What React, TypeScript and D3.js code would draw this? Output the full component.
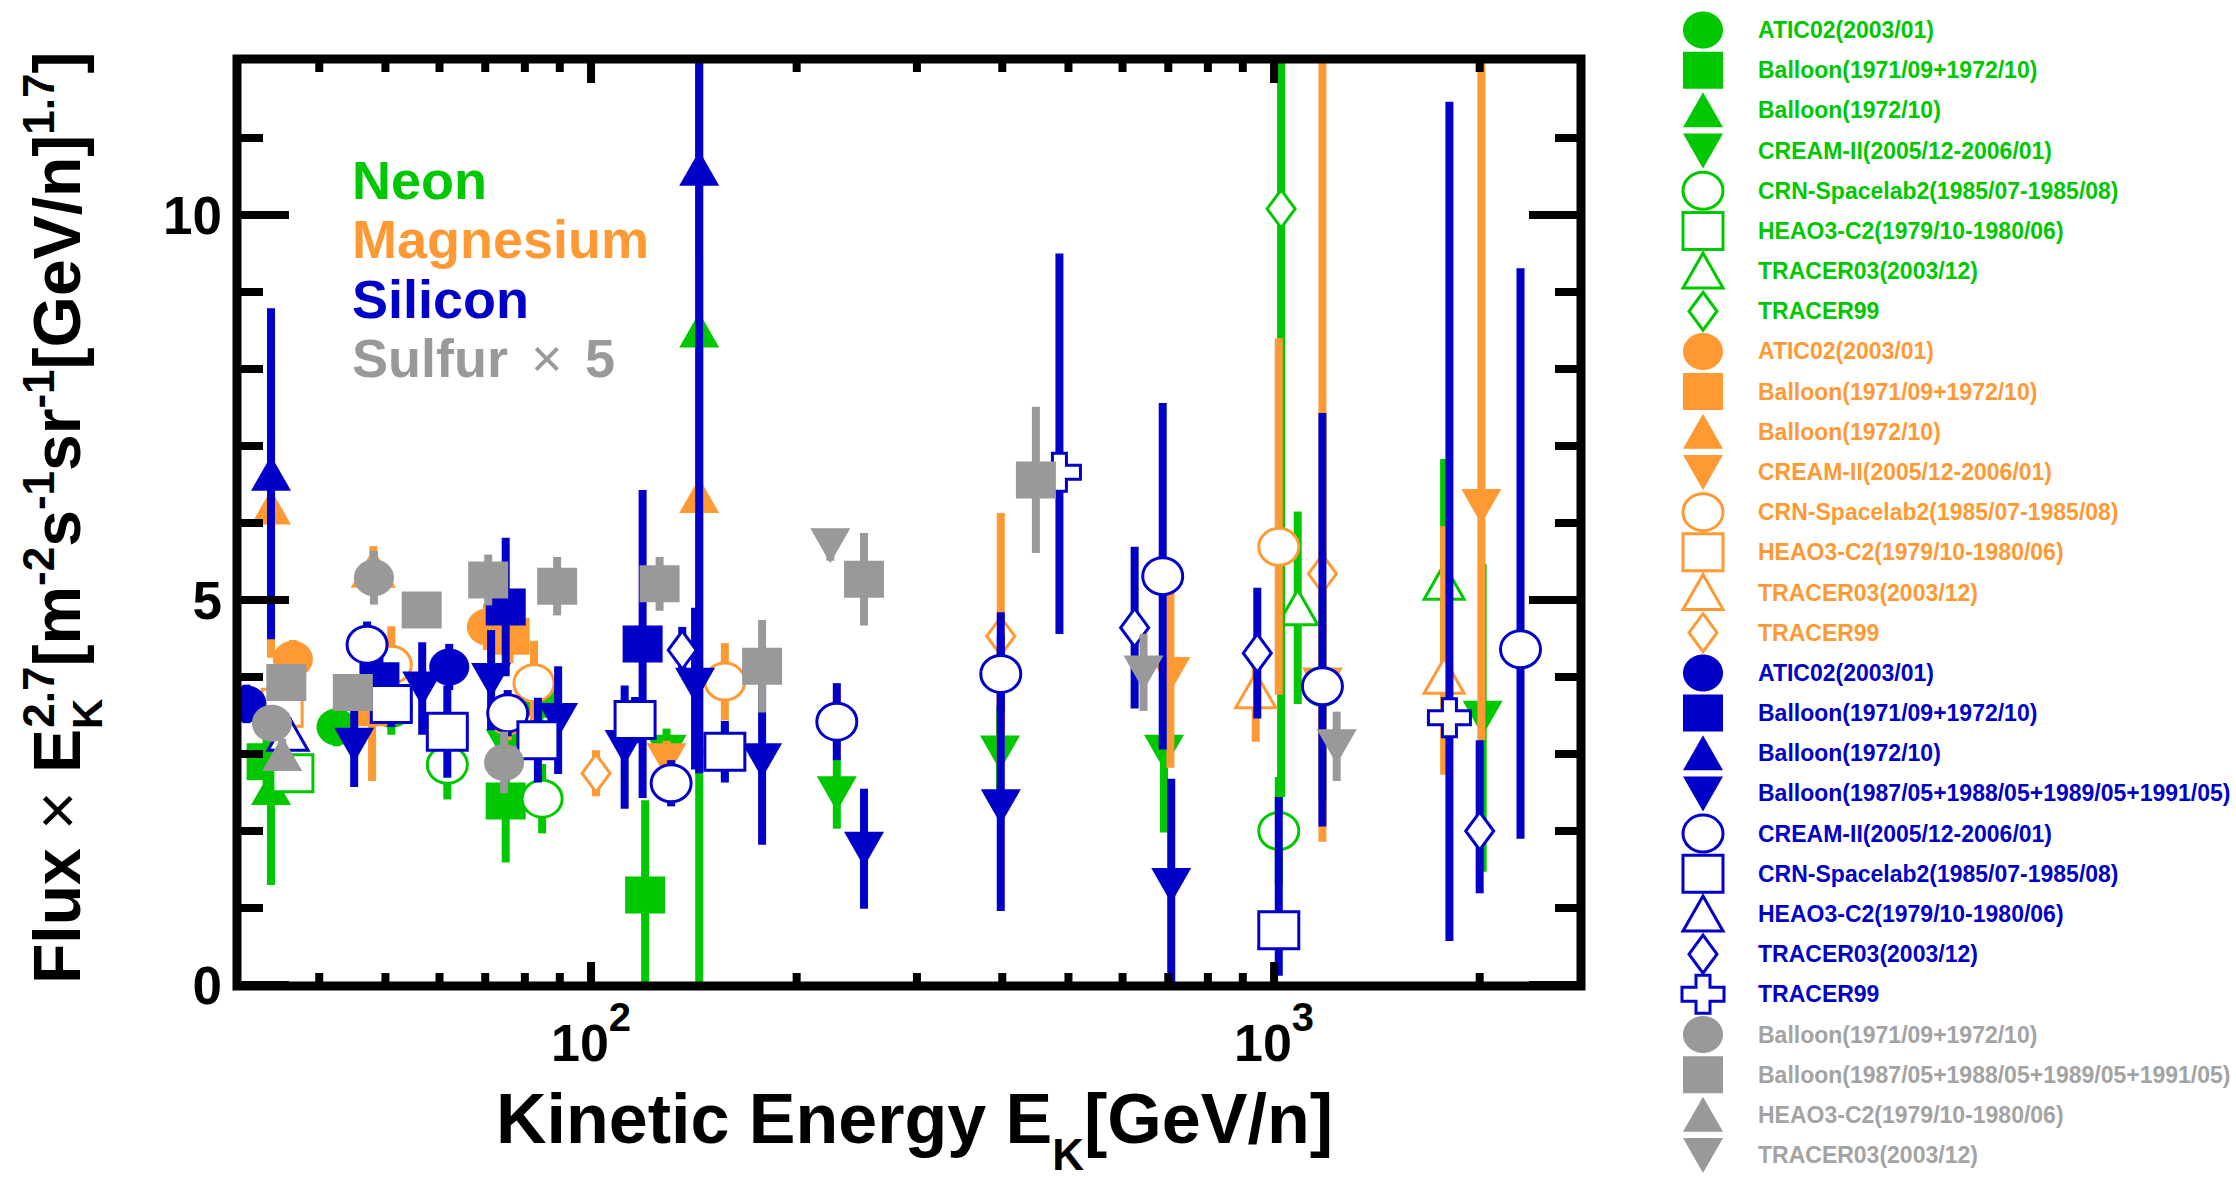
import React from "react";
import * as d3 from "d3";

type Pt = [number, number, number, number]; // [E (GeV/n), flux*E^2.7, errLow, errHigh]

// ---------- Neon ----------
const neATIC02: Pt[] = [[42.4, 3.35, 0.25, 0.25], [84, 3.7, 0.3, 0.3], [1177, 3.85, 0.6, 0.6]];
const neBalloon7172: Pt[] = [[33.5, 2.9, 0.3, 0.3], [75, 2.39, 0.8, 0.8], [120, 1.17, 1.17, 1.23]];
const neBalloon72: Pt[] = [[34, 2.56, 1.26, 1.26], [144, 8.5, 8.5, 8.5]];
const neCREAM2: Pt[] = [[75, 3.1, 0.3, 0.3], [129, 3.03, 0.3, 0.3], [229, 2.49, 0.46, 0.46], [397, 3.02, 0.6, 0.6], [690, 3.03, 1.05, 1.05], [1177, 3.9, 1.5, 1.5], [2020, 3.47, 2.0, 2.0]];
const neCRN: Pt[] = [[51, 3.6, 0.35, 0.35], [61.6, 2.86, 0.45, 0.45], [84.8, 2.42, 0.45, 0.45], [157, 3.03, 0.35, 0.35], [1016, 2.0, 0.7, 0.7]];
const neHEAO: Pt[] = [[36.6, 2.75, 0.25, 0.25]];
const neTRACER03: Pt[] = [[1083, 4.9, 1.25, 1.25], [1774, 5.23, 1.6, 1.6]];
const neTRACER99: Pt[] = [[1024, 10.08, 7.64, 7.64]];

// ---------- Magnesium ----------
const mgATIC02: Pt[] = [[36.6, 4.23, 0.25, 0.25], [70.4, 4.65, 0.3, 0.3], [75.5, 3.48, 0.3, 0.3], [229, 3.42, 0.35, 0.35], [398, 4.04, 0.5, 0.5], [1177, 3.9, 0.8, 0.8]];
const mgBalloon7172: Pt[] = [[47.8, 3.6, 0.95, 0.95], [76, 4.53, 0.35, 0.35]];
const mgBalloon72: Pt[] = [[34, 6.2, 1.95, 1.95], [144, 6.35, 3.05, 3.05]];
const mgCREAM2: Pt[] = [[129, 2.92, 0.25, 0.25], [705, 4.04, 1.22, 1.22], [1177, 3.9, 2.04, 8.5], [2011, 6.22, 3.04, 6.0]];
const mgCRN: Pt[] = [[51, 4.16, 0.5, 0.5], [82.5, 3.92, 0.55, 0.55], [157, 3.94, 0.5, 0.5], [1016, 5.69, 1.92, 2.71]];
const mgHEAO: Pt[] = [[35.3, 3.6, 0.3, 0.3]];
const mgTRACER03: Pt[] = [[48, 5.4, 0.3, 0.3], [940, 3.82, 0.66, 0.66], [1774, 4.01, 1.28, 1.95]];
const mgTRACER99: Pt[] = [[101.7, 2.75, 0.3, 0.3], [398, 4.53, 1.6, 1.6], [1177, 5.34, 0.3, 0.3]];

// ---------- Silicon ----------
const siATIC02: Pt[] = [[31.3, 3.65, 0.25, 0.25], [62, 4.13, 0.3, 0.3]];
const siBalloon7172: Pt[] = [[49, 3.95, 0.5, 0.5], [75, 4.91, 0.9, 0.9], [119, 4.43, 2.0, 2.0]];
const siBalloon72: Pt[] = [[34, 6.64, 2.15, 2.15], [144, 10.6, 7.85, 7.85]];
const siBalloon87: Pt[] = [[45, 3.12, 0.55, 0.55], [56.6, 3.85, 0.6, 0.6], [71.4, 3.96, 0.65, 0.65], [89.5, 3.44, 0.7, 0.7], [112, 3.09, 0.8, 0.8], [142, 3.9, 1.1, 1.0], [178, 2.92, 1.1, 1.1], [251, 1.77, 0.78, 0.78], [398, 2.32, 1.36, 2.52], [707, 1.3, 1.38, 1.38]];
const siCREAM2: Pt[] = [[47, 4.42, 0.3, 0.3], [75.5, 3.53, 0.3, 0.3], [131, 2.62, 0.3, 0.3], [229, 3.42, 0.5, 0.5], [398, 4.04, 0.5, 0.5], [687, 5.31, 2.25, 2.25], [1177, 3.88, 1.82, 3.55], [2295, 4.36, 2.46, 4.95]];
const siCRN: Pt[] = [[51, 3.65, 0.3, 0.3], [61.6, 3.29, 0.6, 0.6], [83.6, 3.18, 0.55, 0.55], [116, 3.44, 0.3, 0.3], [157, 3.03, 0.4, 0.4], [1016, 0.71, 0.59, 1.73]];
const siHEAO: Pt[] = [[36, 3.27, 0.2, 0.2]];
const siTRACER03: Pt[] = [[136, 4.35, 0.3, 0.3], [625, 4.64, 1.05, 1.05], [945, 4.31, 0.85, 0.85], [2000, 2.0, 0.81, 1.18]];
const siTRACER99: Pt[] = [[485, 6.66, 2.1, 2.84], [1806, 3.47, 2.9, 8.0]];

// ---------- Sulfur x5 ----------
const sBalloon7172: Pt[] = [[34.1, 3.4, 0.2, 0.2], [48.1, 5.29, 0.35, 0.35], [74.6, 2.89, 0.4, 0.4]];
const sBalloon87: Pt[] = [[35.8, 3.93, 0.2, 0.2], [44.8, 3.8, 0.2, 0.2], [56.5, 4.87, 0.2, 0.2], [70.7, 5.26, 0.33, 0.33], [89.2, 5.18, 0.38, 0.38], [126, 5.21, 0.35, 0.35], [178, 4.14, 0.6, 0.6], [251, 5.27, 0.6, 0.6], [448, 6.56, 0.95, 0.95]];
const sHEAO: Pt[] = [[35.3, 3.0, 0.2, 0.2]];
const sTRACER03: Pt[] = [[224, 5.71, 0.2, 0.2], [644, 4.06, 0.5, 0.5], [1235, 3.1, 0.45, 0.45]];

// ---------- axis ticks ----------
const yMajor = [0, 5, 10];
const yMinor = [1, 2, 3, 4, 6, 7, 8, 9, 11];
const xMajor = [100, 1000];
const xMajorExp = ["2", "3"];
const xMinor = [40, 50, 60, 70, 80, 90, 200, 300, 400, 500, 600, 700, 800, 900, 2000];

const elementLabels = ["Neon", "Magnesium", "Silicon", "Sulfur"];

const GREEN = "#00c800";
const ORANGE = "#ff9933";
const BLUE = "#0000c8";
const GRAY = "#999999";
const GRAYTXT = "#a3a3a3";

type Shape = "circle" | "square" | "triUp" | "triDown" | "oCircle" | "oSquare" | "oTri" | "oDiamond" | "oCross";

const series: { label: string; color: string; text: string; shape: Shape; data: Pt[] }[] = [
  { label: "ATIC02(2003/01)", color: GREEN, text: GREEN, shape: "circle", data: neATIC02 },
  { label: "Balloon(1971/09+1972/10)", color: GREEN, text: GREEN, shape: "square", data: neBalloon7172 },
  { label: "Balloon(1972/10)", color: GREEN, text: GREEN, shape: "triUp", data: neBalloon72 },
  { label: "CREAM-II(2005/12-2006/01)", color: GREEN, text: GREEN, shape: "triDown", data: neCREAM2 },
  { label: "CRN-Spacelab2(1985/07-1985/08)", color: GREEN, text: GREEN, shape: "oCircle", data: neCRN },
  { label: "HEAO3-C2(1979/10-1980/06)", color: GREEN, text: GREEN, shape: "oSquare", data: neHEAO },
  { label: "TRACER03(2003/12)", color: GREEN, text: GREEN, shape: "oTri", data: neTRACER03 },
  { label: "TRACER99", color: GREEN, text: GREEN, shape: "oDiamond", data: neTRACER99 },
  { label: "ATIC02(2003/01)", color: ORANGE, text: ORANGE, shape: "circle", data: mgATIC02 },
  { label: "Balloon(1971/09+1972/10)", color: ORANGE, text: ORANGE, shape: "square", data: mgBalloon7172 },
  { label: "Balloon(1972/10)", color: ORANGE, text: ORANGE, shape: "triUp", data: mgBalloon72 },
  { label: "CREAM-II(2005/12-2006/01)", color: ORANGE, text: ORANGE, shape: "triDown", data: mgCREAM2 },
  { label: "CRN-Spacelab2(1985/07-1985/08)", color: ORANGE, text: ORANGE, shape: "oCircle", data: mgCRN },
  { label: "HEAO3-C2(1979/10-1980/06)", color: ORANGE, text: ORANGE, shape: "oSquare", data: mgHEAO },
  { label: "TRACER03(2003/12)", color: ORANGE, text: ORANGE, shape: "oTri", data: mgTRACER03 },
  { label: "TRACER99", color: ORANGE, text: ORANGE, shape: "oDiamond", data: mgTRACER99 },
  { label: "ATIC02(2003/01)", color: BLUE, text: BLUE, shape: "circle", data: siATIC02 },
  { label: "Balloon(1971/09+1972/10)", color: BLUE, text: BLUE, shape: "square", data: siBalloon7172 },
  { label: "Balloon(1972/10)", color: BLUE, text: BLUE, shape: "triUp", data: siBalloon72 },
  { label: "Balloon(1987/05+1988/05+1989/05+1991/05)", color: BLUE, text: BLUE, shape: "triDown", data: siBalloon87 },
  { label: "CREAM-II(2005/12-2006/01)", color: BLUE, text: BLUE, shape: "oCircle", data: siCREAM2 },
  { label: "CRN-Spacelab2(1985/07-1985/08)", color: BLUE, text: BLUE, shape: "oSquare", data: siCRN },
  { label: "HEAO3-C2(1979/10-1980/06)", color: BLUE, text: BLUE, shape: "oTri", data: siHEAO },
  { label: "TRACER03(2003/12)", color: BLUE, text: BLUE, shape: "oDiamond", data: siTRACER03 },
  { label: "TRACER99", color: BLUE, text: BLUE, shape: "oCross", data: siTRACER99 },
  { label: "Balloon(1971/09+1972/10)", color: GRAY, text: GRAYTXT, shape: "circle", data: sBalloon7172 },
  { label: "Balloon(1987/05+1988/05+1989/05+1991/05)", color: GRAY, text: GRAYTXT, shape: "square", data: sBalloon87 },
  { label: "HEAO3-C2(1979/10-1980/06)", color: GRAY, text: GRAYTXT, shape: "triUp", data: sHEAO },
  { label: "TRACER03(2003/12)", color: GRAY, text: GRAYTXT, shape: "triDown", data: sTRACER03 },
];

const FONT = "'Liberation Sans', Arial, Helvetica, sans-serif";

const x = d3.scaleLog().domain([30, 2800]).range([233.9, 1579.5]);
const y = d3.scaleLinear().domain([0, 12]).range([985, 61]);

const L = 237, R = 1581, T = 59, B = 986;

function shapePath(shape: Shape, cx: number, cy: number): string {
  const p = d3.path();
  const poly = (pts: [number, number][]) => {
    p.moveTo(cx + pts[0][0], cy + pts[0][1]);
    for (let i = 1; i < pts.length; i++) p.lineTo(cx + pts[i][0], cy + pts[i][1]);
    p.closePath();
  };
  switch (shape) {
    case "circle":
    case "oCircle": {
      const rx = 20, ry = 18.5, k = 0.5523;
      p.moveTo(cx + rx, cy);
      p.bezierCurveTo(cx + rx, cy + ry * k, cx + rx * k, cy + ry, cx, cy + ry);
      p.bezierCurveTo(cx - rx * k, cy + ry, cx - rx, cy + ry * k, cx - rx, cy);
      p.bezierCurveTo(cx - rx, cy - ry * k, cx - rx * k, cy - ry, cx, cy - ry);
      p.bezierCurveTo(cx + rx * k, cy - ry, cx + rx, cy - ry * k, cx + rx, cy);
      p.closePath();
      break;
    }
    case "square":
    case "oSquare":
      p.rect(cx - 20, cy - 18.5, 40, 37);
      break;
    case "triUp":
    case "oTri":
      poly([[0, -18], [20, 17], [-20, 17]]);
      break;
    case "triDown":
      poly([[-20, -17], [20, -17], [0, 18]]);
      break;
    case "oDiamond":
      poly([[0, -19], [14, 0], [0, 19], [-14, 0]]);
      break;
    case "oCross": {
      const a = 21, b = 19, t = 7;
      poly([[-t, -b], [t, -b], [t, -t], [a, -t], [a, t], [t, t], [t, b], [-t, b], [-t, t], [-a, t], [-a, -t], [-t, -t]]);
      break;
    }
  }
  return p.toString();
}

function Marker({ shape, color, cx, cy }: { shape: Shape; color: string; cx: number; cy: number }) {
  const open = shape.startsWith("o");
  return (
    <path
      d={shapePath(shape, cx, cy)}
      fill={open ? "#ffffff" : color}
      stroke={open ? color : "none"}
      strokeWidth={open ? 3 : 0}
    />
  );
}

const LEGEND_Y0 = 30;
const LEGEND_DY = 40.18;

export default function App() {
  return (
    <svg
      width={2236}
      height={1179}
      viewBox="0 0 2236 1179"
      style={{ position: "fixed", left: 0, top: 0, display: "block", background: "#ffffff" }}
      fontFamily={FONT}
    >
      <rect x={0} y={0} width={2236} height={1179} fill="#ffffff" />
      <defs>
        <clipPath id="plotClip">
          <rect x={L} y={T} width={R - L} height={B - T} />
        </clipPath>
      </defs>

      {/* data */}
      <g clipPath="url(#plotClip)">
        {series.map((s, si) => (
          <g key={si}>
            {s.data.map((d, i) => (
              <line
                key={"e" + i}
                x1={x(d[0])}
                x2={x(d[0])}
                y1={y(Math.max(0, d[1] - d[2]))}
                y2={y(d[1] + d[3])}
                stroke={s.color}
                strokeWidth={8}
              />
            ))}
            {s.data.map((d, i) => (
              <Marker key={"m" + i} shape={s.shape} color={s.color} cx={x(d[0])} cy={y(d[1])} />
            ))}
          </g>
        ))}
      </g>

      {/* frame */}
      <rect x={L} y={T} width={R - L} height={B - T} fill="none" stroke="#000" strokeWidth={9} />

      {/* y ticks */}
      {yMajor.concat(yMinor).map((v) => {
        const len = yMajor.includes(v) ? 52 : 26;
        return (
          <g key={"yt" + v}>
            <line x1={L} x2={L + len} y1={y(v)} y2={y(v)} stroke="#000" strokeWidth={8} />
            <line x1={R} x2={R - len} y1={y(v)} y2={y(v)} stroke="#000" strokeWidth={8} />
          </g>
        );
      })}
      {/* x ticks */}
      {xMajor.concat(xMinor).map((v) => {
        const len = xMajor.includes(v) ? 24 : 13;
        return (
          <g key={"xt" + v}>
            <line x1={x(v)} x2={x(v)} y1={B} y2={B - len} stroke="#000" strokeWidth={8} />
            <line x1={x(v)} x2={x(v)} y1={T} y2={T + len} stroke="#000" strokeWidth={8} />
          </g>
        );
      })}

      {/* y tick labels */}
      {yMajor.map((v) => (
        <text key={"yl" + v} x={222} y={y(v) + 19} textAnchor="end" fontSize={53} fontWeight="bold" fill="#000">
          {String(v)}
        </text>
      ))}
      {/* x tick labels */}
      {xMajor.map((v, i) => (
        <text key={"xl" + v} x={x(v)} y={1061} textAnchor="middle" fontSize={52} fontWeight="bold" fill="#000">
          10
          <tspan fontSize={40} dy={-30}>{xMajorExp[i]}</tspan>
        </text>
      ))}

      {/* axis titles */}
      <text x={496} y={1143} fontSize={70} fontWeight="bold" fill="#000">
        Kinetic Energy E
        <tspan fontSize={44} dy={27}>K</tspan>
        <tspan dy={-27}>[GeV/n]</tspan>
      </text>
      <g transform="translate(80,0) rotate(-90)">
        <text x={-984} y={0} fontSize={66} fontWeight="bold" fill="#000">
          <tspan>{"Flux "}</tspan>
          <tspan fontWeight="normal">{"×"}</tspan>
          <tspan>{" E"}</tspan>
          <tspan fontSize={42} dy={22}>K</tspan>
          <tspan fontSize={44} dx={-29} dy={-48}>2.7</tspan>
          <tspan dy={26}>[m</tspan>
          <tspan fontSize={44} dy={-26}>-2</tspan>
          <tspan dy={26}>s</tspan>
          <tspan fontSize={44} dy={-26}>-1</tspan>
          <tspan dy={26}>sr</tspan>
          <tspan fontSize={44} dy={-26}>-1</tspan>
          <tspan dy={26}>[GeV/n]</tspan>
          <tspan fontSize={44} dy={-26}>1.7</tspan>
          <tspan dy={26}>]</tspan>
        </text>
      </g>

      {/* element annotations */}
      <text x={352} y={199} fontSize={54} fontWeight="bold" fill={GREEN}>{elementLabels[0]}</text>
      <text x={352} y={258} fontSize={54} fontWeight="bold" fill={ORANGE}>{elementLabels[1]}</text>
      <text x={352} y={318} fontSize={54} fontWeight="bold" fill={BLUE}>{elementLabels[2]}</text>
      <text x={352} y={377} fontSize={54} fontWeight="bold" fill={GRAY}>
        {elementLabels[3]}
        <tspan x={531} fontWeight="normal">×</tspan>
        <tspan x={585}>5</tspan>
      </text>

      {/* legend */}
      {series.map((s, i) => {
        const cy = LEGEND_Y0 + LEGEND_DY * i;
        return (
          <g key={"lg" + i}>
            <Marker shape={s.shape} color={s.color} cx={1703} cy={cy} />
            <text x={1758} y={cy + 8} fontSize={23} fontWeight="bold" fill={s.text}>
              {s.label}
            </text>
          </g>
        );
      })}
    </svg>
  );
}
